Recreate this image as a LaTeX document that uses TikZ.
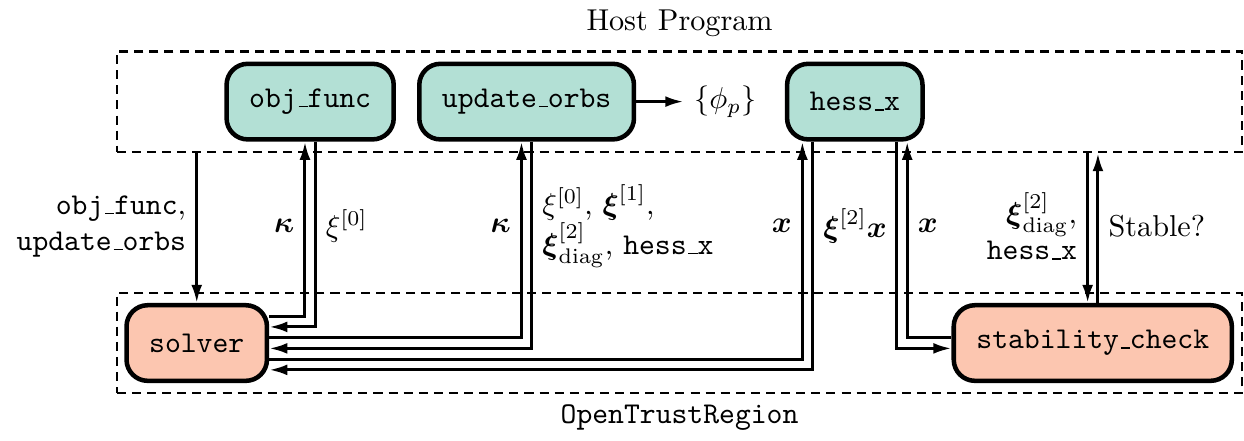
\documentclass[tikz,border=0pt]{standalone}
\usepackage{xcolor}
\usepackage{amsmath}
\usepackage{tikz}
\usetikzlibrary{math,positioning,arrows.meta}

\definecolor{hostgreen}{HTML}{B3E0D5}
\definecolor{trpeach}{HTML}{FCC6B0}
% low short underscore
\newcommand{\usc}{\leavevmode\kern.06em\vbox{\hrule height.5pt width.3em}}

\begin{document}
\begin{tikzpicture}[
	fn/.style={draw, line width=1.5pt, rounded corners=7pt, font=\ttfamily, inner xsep=7.5pt, minimum height=0.88cm},
	hostfn/.style={fn, fill=hostgreen},
	trfn/.style={fn, fill=trpeach},
	region/.style={draw, line width=0.8pt, dash pattern=on 3pt off 2pt, minimum width=13.1cm, minimum height=1.17cm, inner sep=0pt},
	flow/.style={line width=1pt, -{Latex[length=6pt,width=3.6pt]}}
]
\tikzmath{
	\cx = 7.91;\yt = -1.1;\yb = -3.91;\ym = -2.55;
	\dx = 0.06;\dy = 0.125;\hx = 0.55;
	\ra = 2.5*\dy;\rb = 1.5*\dy;\rc = 0.5*\dy;
	\ha = -\hx-\dx;\hb = -\hx+\dx;\hc = \hx-\dx;\hd = \hx+\dx;
	{\useasboundingbox (0,0) rectangle (14.48,-4.924);};
	% the two regions
	{\node[region] (host) at (\cx,\yt) {};};
	{\node[above=0.03cm of host] (htitle) {Host Program};};
	{\node[region] (otr) at (\cx,\yb) {};};
	{\node[below=0cm of otr, font=\ttfamily] (otitle) {OpenTrustRegion};};
	%
	{\node[hostfn] (obj) at (3.61,\yt) {obj\usc func};};
	{\node[hostfn] (upd) at (6.13,\yt) {update\usc orbs};};
	{\node[right=0.55cm of upd] (phi) {$\{\phi_p\}$};};
	{\node[hostfn] (hess) at (9.95,\yt) {hess\usc x};};
	{\node[trfn] (solver) at (2.29,\yb) {solver};};
	{\node[trfn] (stab) at (12.72,\yb) {stability\usc check};};
	%
	{\coordinate (mid) at (0,\ym);};
	{\coordinate (oa) at ([xshift=-\dx cm]obj.south);};
	{\coordinate (ob) at ([xshift=\dx cm]obj.south);};
	{\coordinate (ua) at ([xshift=-\dx cm]upd.south);};
	{\coordinate (ub) at ([xshift=\dx cm]upd.south);};
	{\coordinate (ha) at ([xshift=\ha cm]hess.south);};
	{\coordinate (hb) at ([xshift=\hb cm]hess.south);};
	{\coordinate (hc) at ([xshift=\hc cm]hess.south);};
	{\coordinate (hd) at ([xshift=\hd cm]hess.south);};
	{\coordinate (sd) at ([xshift=-\dx cm]stab.north);};
	{\coordinate (su) at ([xshift=\dx cm]stab.north);};
	% connectors
	{\draw[flow] (upd) -- (phi);};
	{\draw[flow] (host.south -| solver.north) -- (solver.north);};
	{\draw[flow] ([yshift=\ra cm]solver.east) -| (oa);};
	{\draw[flow] (ob) |- ([yshift=\rb cm]solver.east);};
	{\draw[flow] ([yshift=\rc cm]solver.east) -| (ua);};
	{\draw[flow] (ub) |- ([yshift=-\rc cm]solver.east);};
	{\draw[flow] ([yshift=-\rb cm]solver.east) -| (ha);};
	{\draw[flow] (hb) |- ([yshift=-\ra cm]solver.east);};
	{\draw[flow] (hc) |- ([yshift=-\rc cm]stab.west);};
	{\draw[flow] ([yshift=\rc cm]stab.west) -| (hd);};
	{\draw[flow] (sd |- host.south) -- (sd);};
	{\draw[flow] (su) -- (su |- host.south);};
	% labels
	{\node[left, align=right] (lfunc) at (solver.north |- mid) {\texttt{obj\usc func},\\\texttt{update\usc orbs}};};
	{\node[left] (lka) at (oa |- mid) {$\boldsymbol{\kappa}$};};
	{\node[right] (lxa) at (ob |- mid) {$\xi^{[0]}$};};
	{\node[left] (lkb) at (ua |- mid) {$\boldsymbol{\kappa}$};};
	{\node[right, align=left] (lxb) at (ub |- mid) {$\xi^{[0]}$, $\boldsymbol{\xi}^{[1]}$,\\$\boldsymbol{\xi}^{[2]}_{\mathrm{diag}}$, \texttt{hess\usc x}};};
	{\node[left] (lxc) at (ha |- mid) {$\boldsymbol{x}$};};
	{\node[right] (lxd) at (hb |- mid) {$\boldsymbol{\xi}^{[2]}\boldsymbol{x}$};};
	{\node[right] (lxe) at (hd |- mid) {$\boldsymbol{x}$};};
	{\node[left, align=right] (lxf) at (sd |- mid) {$\boldsymbol{\xi}^{[2]}_{\mathrm{diag}}$,\\\texttt{hess\usc x}};};
	{\node[right] (lst) at (su |- mid) {Stable?};};
};
\end{tikzpicture}
\end{document}
